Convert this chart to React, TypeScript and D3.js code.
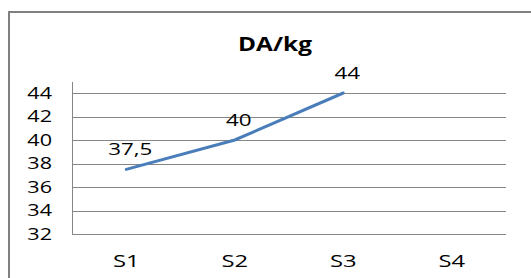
import React from "react";
import * as d3 from "d3";

const categories = ["S1", "S2", "S3", "S4"];
const values: (number | null)[] = [37.5, 40, 44, null];
const valueLabels = ["37,5", "40", "44", ""];
const yTicks = [32, 34, 36, 38, 40, 42, 44];
const title = "DA/kg";

const font = "'Open Sans', 'Liberation Sans', sans-serif";

function SText(props: {
  x: number;
  y: number;
  sx: number;
  size: number;
  anchor: "start" | "middle" | "end";
  bold?: boolean;
  children: React.ReactNode;
}) {
  return (
    <text
      transform={`translate(${props.x},${props.y}) scale(${props.sx},1)`}
      textAnchor={props.anchor}
      fontFamily={font}
      fontSize={props.size}
      fontWeight={props.bold ? "bold" : "normal"}
      fill="#000"
    >
      {props.children}
    </text>
  );
}

export default function App() {
  const W = 531, H = 278;
  const left = 72, right = 506, top = 82, bottom = 234;
  const x = d3.scaleBand<string>().domain(categories).range([left, right]);
  const y = d3.scaleLinear().domain([32, 44]).range([bottom, 93]);
  const pts = categories
    .map((c, i) => ({ c, v: values[i], l: valueLabels[i] }))
    .filter((d) => d.v !== null) as { c: string; v: number; l: string }[];
  const cx = (c: string) => (x(c) as number) + x.bandwidth() / 2;
  const line = d3
    .line<{ c: string; v: number }>()
    .x((d) => cx(d.c))
    .y((d) => y(d.v));
  return (
    <svg width={W} height={H} style={{ position: "absolute", left: 0, top: 0 }}>
      <rect x={0} y={0} width={W} height={H} fill="#fff" />
      <rect x={9} y={12} width={W + 10} height={H + 10} fill="#fff" stroke="#808080" strokeWidth={2} />
      <SText x={275} y={51} sx={1.22} size={20} anchor="middle" bold>
        {title}
      </SText>
      {yTicks.map((t) => (
        <g key={t}>
          <line x1={left} x2={right} y1={Math.round(y(t)) + 0.5} y2={Math.round(y(t)) + 0.5} stroke="#868686" strokeWidth={1} />
          <SText x={52} y={y(t) + 5.5} sx={1.35} size={16} anchor="end">
            {t}
          </SText>
        </g>
      ))}
      <line x1={left + 0.5} x2={left + 0.5} y1={top} y2={bottom} stroke="#868686" strokeWidth={1} />
      {categories.map((c) => (
        <SText key={c} x={cx(c)} y={267} sx={1.4} size={17} anchor="middle">
          {c}
        </SText>
      ))}
      <path d={line(pts) || ""} fill="none" stroke="#4a7ebb" strokeWidth={3} strokeLinecap="round" />
      {pts.map((d) => (
        <SText key={d.c} x={cx(d.c) + 4} y={y(d.v) - 14} sx={1.4} size={16} anchor="middle">
          {d.l}
        </SText>
      ))}
    </svg>
  );
}
